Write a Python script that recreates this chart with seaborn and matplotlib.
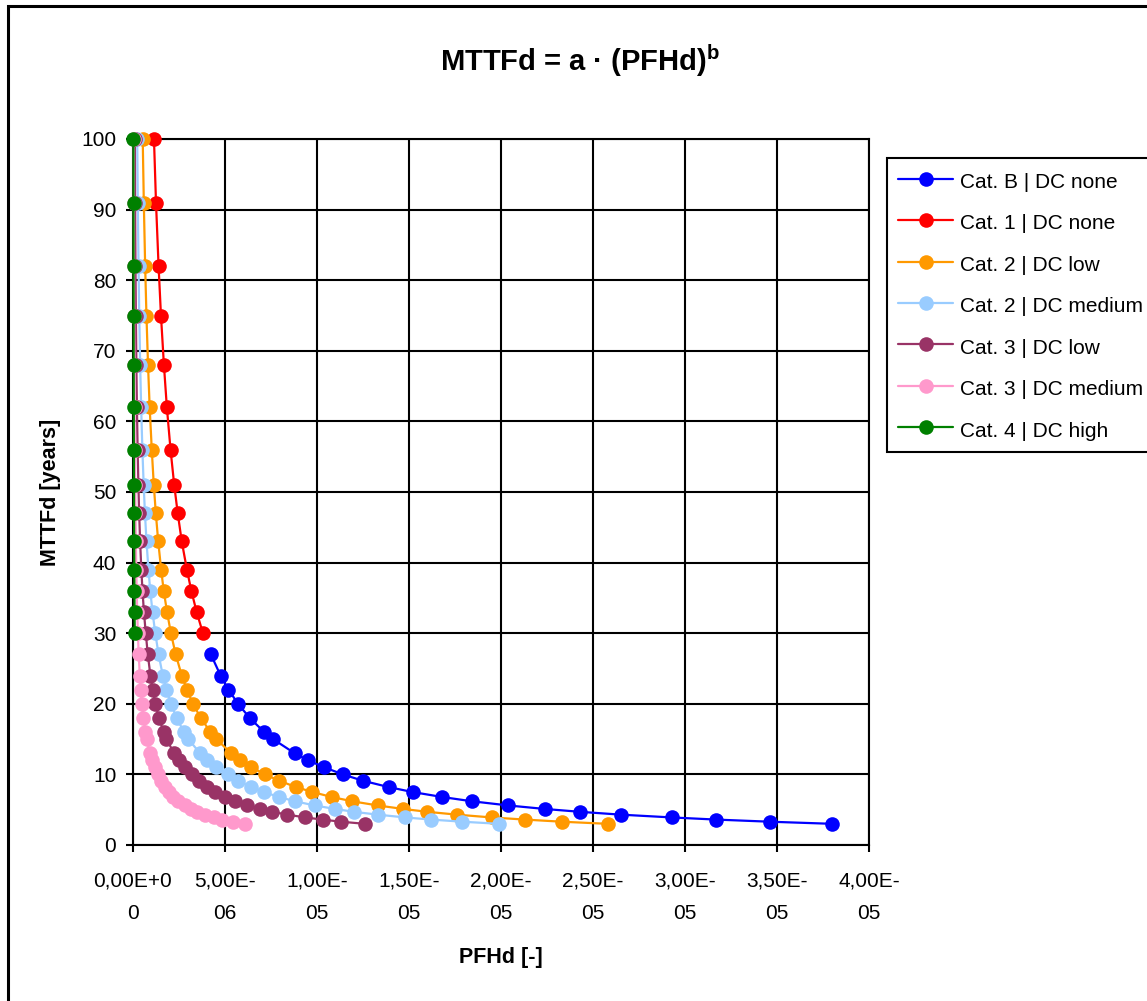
import matplotlib
matplotlib.use("Agg")
import pandas as pd
import seaborn as sns
import matplotlib.pyplot as plt
from matplotlib.patches import Rectangle

# MTTFd values (years) shared by all series
mttfd = [3, 3.3, 3.6, 3.9, 4.3, 4.7, 5.1, 5.6, 6.2, 6.8, 7.5, 8.2, 9.1, 10, 11, 12, 13,
         15, 16, 18, 20, 22, 24, 27, 30, 33, 36, 39, 43, 47, 51, 56, 62, 68, 75, 82, 91, 100]

cat_b_none = [3.80e-5, 3.46e-5, 3.17e-5, 2.93e-5, 2.65e-5, 2.43e-5, 2.24e-5, 2.04e-5,
              1.84e-5, 1.68e-5, 1.52e-5, 1.39e-5, 1.25e-5, 1.14e-5, 1.04e-5, 9.51e-6,
              8.78e-6, 7.61e-6, 7.13e-6, 6.34e-6, 5.71e-6, 5.19e-6, 4.76e-6, 4.23e-6,
              None, None, None, None, None, None, None, None, None, None, None, None, None, None]

cat_1_none = [None, None, None, None, None, None, None, None, None, None, None, None,
              None, None, None, None, None, None, None, None, None, None, None, None,
              3.80e-6, 3.46e-6, 3.17e-6, 2.93e-6, 2.65e-6, 2.43e-6, 2.24e-6, 2.04e-6,
              1.84e-6, 1.68e-6, 1.52e-6, 1.39e-6, 1.25e-6, 1.14e-6]

cat_2_low = [2.58e-5, 2.33e-5, 2.13e-5, 1.95e-5, 1.76e-5, 1.60e-5, 1.47e-5, 1.33e-5,
             1.19e-5, 1.08e-5, 9.75e-6, 8.87e-6, 7.94e-6, 7.18e-6, 6.44e-6, 5.84e-6,
             5.33e-6, 4.53e-6, 4.21e-6, 3.68e-6, 3.26e-6, 2.93e-6, 2.65e-6, 2.32e-6,
             2.06e-6, 1.85e-6, 1.67e-6, 1.53e-6, 1.37e-6, 1.24e-6, 1.13e-6, 1.02e-6,
             9.06e-7, 8.17e-7, 7.31e-7, 6.61e-7, 5.88e-7, 5.28e-7]

cat_2_medium = [1.99e-5, 1.79e-5, 1.62e-5, 1.48e-5, 1.33e-5, 1.20e-5, 1.10e-5, 9.87e-6,
                8.80e-6, 7.93e-6, 7.10e-6, 6.43e-6, 5.71e-6, 5.14e-6, 4.53e-6, 4.04e-6,
                3.64e-6, 3.01e-6, 2.77e-6, 2.37e-6, 2.06e-6, 1.82e-6, 1.62e-6, 1.39e-6,
                1.21e-6, 1.06e-6, 9.39e-7, 8.40e-7, 7.34e-7, 6.49e-7, 5.80e-7, 5.10e-7,
                4.43e-7, 3.90e-7, 3.40e-7, 3.01e-7, 2.61e-7, 2.29e-7]

cat_3_low = [1.26e-5, 1.13e-5, 1.03e-5, 9.37e-6, 8.39e-6, 7.58e-6, 6.91e-6, 6.21e-6,
             5.53e-6, 4.98e-6, 4.45e-6, 4.02e-6, 3.57e-6, 3.21e-6, 2.81e-6, 2.49e-6,
             2.23e-6, 1.82e-6, 1.67e-6, 1.41e-6, 1.22e-6, 1.07e-6, 9.47e-7, 8.04e-7,
             6.94e-7, 5.94e-7, 5.16e-7, 4.53e-7, 3.87e-7, 3.35e-7, 2.93e-7, 2.52e-7,
             2.13e-7, 1.84e-7, 1.57e-7, 1.35e-7, 1.14e-7, 1.01e-7]

cat_3_medium = [6.09e-6, 5.41e-6, 4.86e-6, 4.40e-6, 3.89e-6, 3.48e-6, 3.15e-6, 2.80e-6,
                2.47e-6, 2.20e-6, 1.95e-6, 1.74e-6, 1.53e-6, 1.36e-6, 1.18e-6, 1.04e-6,
                9.21e-7, 7.44e-7, 6.76e-7, 5.67e-7, 4.85e-7, 4.21e-7, 3.70e-7, 3.10e-7,
                2.65e-7, 2.30e-7, 2.01e-7, 1.78e-7, 1.53e-7, 1.34e-7, 1.18e-7, 1.01e-7,
                8.64e-8, 7.43e-8, 6.30e-8, 5.41e-8, 4.53e-8, 3.87e-8]

cat_4_high = [None, None, None, None, None, None, None, None, None, None, None, None,
              None, None, None, None, None, None, None, None, None, None, None, None,
              9.54e-8, 8.57e-8, 7.77e-8, 7.11e-8, 6.37e-8, 5.76e-8, 5.26e-8, 4.73e-8,
              4.22e-8, 3.80e-8, 3.41e-8, 3.08e-8, 2.74e-8, 2.47e-8]

series_names = ["Cat. B | DC none", "Cat. 1 | DC none", "Cat. 2 | DC low",
                "Cat. 2 | DC medium", "Cat. 3 | DC low", "Cat. 3 | DC medium",
                "Cat. 4 | DC high"]
series_values = [cat_b_none, cat_1_none, cat_2_low, cat_2_medium,
                 cat_3_low, cat_3_medium, cat_4_high]
series_colors = ["#0000FF", "#FF0000", "#FF9900", "#99CCFF",
                 "#993366", "#FF99CC", "#008000"]

x_ticks = [0, 5e-6, 1e-5, 1.5e-5, 2e-5, 2.5e-5, 3e-5, 3.5e-5, 4e-5]
x_tick_labels = ["0,00E+0\n0", "5,00E-\n06", "1,00E-\n05", "1,50E-\n05", "2,00E-\n05",
                 "2,50E-\n05", "3,00E-\n05", "3,50E-\n05", "4,00E-\n05"]
y_ticks = [0, 10, 20, 30, 40, 50, 60, 70, 80, 90, 100]

sns.set_style("white")
plt.rcParams['font.family'] = ['Liberation Sans', 'DejaVu Sans']
plt.rcParams['text.color'] = 'black'
plt.rcParams['axes.labelcolor'] = 'black'
plt.rcParams['mathtext.fontset'] = 'custom'
plt.rcParams['mathtext.rm'] = 'Liberation Sans'
plt.rcParams['mathtext.bf'] = 'Liberation Sans:bold'

W, H = 1147, 1001
fig = plt.figure(figsize=(W / 100, H / 100), dpi=100)
ax = fig.add_axes([133 / W, 1 - 845 / H, (869 - 133) / W, (845 - 139) / H])

for name, vals, col in zip(series_names, series_values, series_colors):
    df = pd.DataFrame({"PFHd": vals, "MTTFd": mttfd}).dropna()
    sns.lineplot(data=df, x="PFHd", y="MTTFd", sort=False, estimator=None,
                 color=col, marker="o", markersize=10.5, markeredgecolor=col,
                 markeredgewidth=0, linewidth=1.6, label=name, ax=ax,
                 clip_on=False, zorder=3)

ax.set_xlim(0, 4e-5)
ax.set_ylim(0, 100)
ax.set_xticks(x_ticks)
ax.set_xticklabels(x_tick_labels, linespacing=1.9)
ax.set_yticks(y_ticks)
ax.tick_params(axis="both", direction="out", length=5, width=1.5, colors="black",
               labelsize=15, bottom=True, left=True)
ax.tick_params(axis="x", pad=14)
ax.tick_params(axis="y", pad=7)

ax.grid(True, color="black", linewidth=1.5)
ax.set_axisbelow(True)
for sp in ax.spines.values():
    sp.set_color("black")
    sp.set_linewidth(1.5)

ax.set_xlabel("PFHd [-]", fontsize=15.5, fontweight="bold")
ax.xaxis.label.set_verticalalignment("center")
ax.xaxis.set_label_coords(0.5, -(958 - 845) / 706)
ax.set_ylabel("MTTFd [years]", fontsize=15.5, fontweight="bold")
ax.yaxis.label.set_verticalalignment("center")
ax.yaxis.set_label_coords(-(133 - 51) / 736, 0.5)

fig.text(0.506, 1 - 61 / H, r"MTTFd = a · (PFHd)$^{\mathbf{b}}$", ha="center", va="center",
         fontsize=21, fontweight="bold")

leg = ax.legend(loc="upper left", bbox_to_anchor=(887 / W, 1 - 158 / H),
                bbox_transform=fig.transFigure, fontsize=15, frameon=True,
                fancybox=False, edgecolor="black", borderaxespad=0,
                handlelength=2.6, handleheight=1.3, handletextpad=0.35,
                labelspacing=0.9, borderpad=0.55)
leg.get_frame().set_linewidth(1.5)
leg.get_frame().set_alpha(1)

# outer chart border
fig.patches.append(Rectangle((8 / W, -0.02), 1.1, 1.02 - 6 / H, fill=False,
                             edgecolor="black", linewidth=2.2, transform=fig.transFigure))

fig.savefig("out.png", dpi=100)
